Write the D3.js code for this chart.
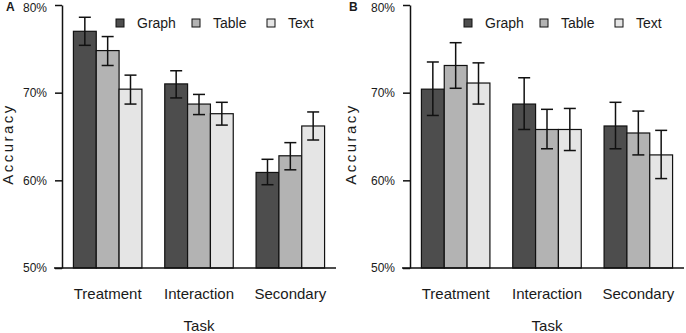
<!DOCTYPE html>
<html>
<head>
<meta charset="utf-8">
<script src="https://cdn.jsdelivr.net/npm/d3@7"></script>
<style>
  body { margin: 0; background: #fff; }
  text { font-family: "Liberation Sans", Arial, sans-serif; fill: #1a1a1a; }
</style>
</head>
<body>
<div id="chart-area"></div>
<script>
// data
let tasks = ["Treatment", "Interaction", "Secondary"];
let formats = ["Graph", "Table", "Text"];
let yTicks = [50, 60, 70, 80];
let panels = ["A", "B"];

// accuracy (%) per task, one value per format
let meanA = [[77.0, 74.8, 70.4], [71.0, 68.7, 67.6], [60.9, 62.8, 66.2]];
let lowA  = [[75.4, 73.1, 68.7], [69.4, 67.5, 66.3], [59.5, 61.2, 64.6]];
let highA = [[78.6, 76.4, 72.0], [72.5, 69.8, 68.9], [62.4, 64.3, 67.8]];

let meanB = [[70.4, 73.1, 71.1], [68.7, 65.8, 65.8], [66.2, 65.4, 62.9]];
let lowB  = [[67.4, 70.5, 68.7], [65.8, 63.6, 63.4], [63.6, 62.9, 60.2]];
let highB = [[73.5, 75.7, 73.4], [71.7, 68.1, 68.2], [68.9, 67.9, 65.7]];

let colors = ["#4d4d4d", "#b3b3b3", "#e5e5e5"];

let plotWidth = 274, plotTop = 5, plotBottom = 268;

let svg = d3.select("#chart-area")
    .append("svg")
    .attr("width", 686)
    .attr("height", 333);

let x = d3.scaleBand().domain(tasks).range([0, plotWidth]).paddingInner(0.25).paddingOuter(0.125);
let xInner = d3.scaleBand().domain(formats).range([0, x.bandwidth()]);
let y = d3.scaleLinear().domain([50, 80]).range([plotBottom, plotTop]);
let color = d3.scaleOrdinal().domain(formats).range(colors);

drawPanel(62, 0, panels[0], meanA, lowA, highA);
drawPanel(410, 343, panels[1], meanB, lowB, highB);

function drawPanel(axisX, offsetX, letter, mean, low, high) {
    let g = svg.append("g")
        .attr("transform", `translate(${axisX},0)`);

    // panel letter
    svg.append("text")
        .attr("x", offsetX + 6)
        .attr("y", 11)
        .attr("font-size", "12px")
        .attr("font-weight", "bold")
        .text(letter);

    // bars
    let groups = g.selectAll(".task")
        .data(tasks)
        .enter().append("g")
        .attr("transform", d => `translate(${x(d)},0)`);

    groups.each(function(task, i) {
        let gg = d3.select(this);
        formats.forEach((f, j) => {
            gg.append("rect")
                .attr("x", xInner(f))
                .attr("y", y(mean[i][j]))
                .attr("width", xInner.bandwidth())
                .attr("height", y(50) - y(mean[i][j]))
                .attr("fill", color(f))
                .attr("stroke", "#111")
                .attr("stroke-width", 1.2);

            let cx = xInner(f) + xInner.bandwidth() / 2;
            gg.append("line")
                .attr("x1", cx).attr("x2", cx)
                .attr("y1", y(low[i][j])).attr("y2", y(high[i][j]))
                .attr("stroke", "#111").attr("stroke-width", 1.5);
            [low[i][j], high[i][j]].forEach(v => {
                gg.append("line")
                    .attr("x1", cx - 6).attr("x2", cx + 6)
                    .attr("y1", y(v)).attr("y2", y(v))
                    .attr("stroke", "#111").attr("stroke-width", 1.5);
            });
        });
    });

    // baseline
    g.append("line")
        .attr("x1", -8).attr("x2", plotWidth)
        .attr("y1", y(50)).attr("y2", y(50))
        .attr("stroke", "#111").attr("stroke-width", 1.5);

    // Y axis
    let yAxisCall = d3.axisLeft(y)
        .tickValues(yTicks)
        .tickSize(7)
        .tickSizeOuter(0)
        .tickPadding(8)
        .tickFormat(d => d + "%");
    let yAxisGroup = g.append("g").call(yAxisCall);
    yAxisGroup.select(".domain").attr("stroke", "#111").attr("stroke-width", 1.5);
    yAxisGroup.selectAll(".tick line").attr("stroke", "#111").attr("stroke-width", 1.5);
    yAxisGroup.selectAll(".tick text")
        .attr("font-size", "12px")
        .attr("font-family", "Liberation Sans, Arial, sans-serif")
        .attr("fill", "#1a1a1a")
        .attr("y", d => d === 80 ? 2.5 : 0);

    // category labels
    g.selectAll(".cat")
        .data(tasks)
        .enter().append("text")
        .attr("x", d => x(d) + x.bandwidth() / 2)
        .attr("y", 299)
        .attr("text-anchor", "middle")
        .attr("font-size", "15px")
        .text(d => d);

    // axis titles
    g.append("text")
        .attr("x", plotWidth / 2)
        .attr("y", 331)
        .attr("text-anchor", "middle")
        .attr("font-size", "15px")
        .text("Task");

    svg.append("text")
        .attr("transform", `translate(${offsetX + 13},144) rotate(-90)`)
        .attr("text-anchor", "middle")
        .attr("font-size", "15px")
        .attr("letter-spacing", "2.5px")
        .text("Accuracy");

    // legend
    let legendX = [54, 130, 205];
    formats.forEach((f, j) => {
        g.append("rect")
            .attr("x", legendX[j]).attr("y", 19)
            .attr("width", 8).attr("height", 8)
            .attr("fill", color(f))
            .attr("stroke", "#111").attr("stroke-width", 1);
        g.append("text")
            .attr("x", legendX[j] + 21)
            .attr("y", 28)
            .attr("font-size", "14px")
            .text(f);
    });
}
</script>
</body>
</html>
